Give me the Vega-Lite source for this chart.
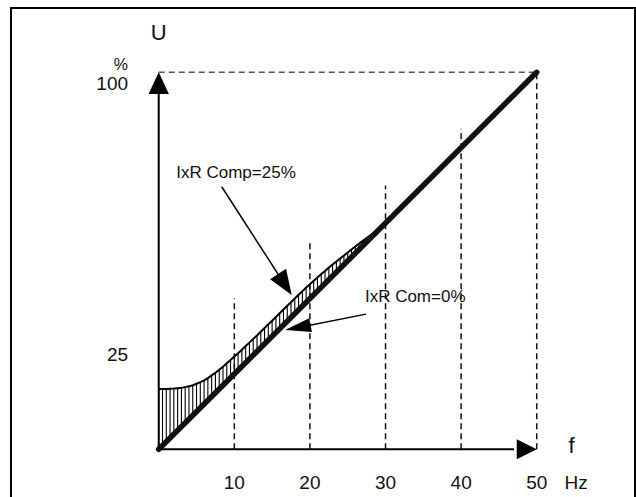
{
  "$schema": "https://vega.github.io/schema/vega-lite/v6.json",
  "width": 624,
  "height": 491,
  "autosize": "none",
  "padding": {"left": 11, "top": 8, "right": 1, "bottom": 0},
  "background": "white",
  "config": {"view": {"stroke": "black", "strokeWidth": 2}, "font": "Liberation Sans"},
  "datasets": {
    "curve": [
      {"f": 0, "u": 16.0, "lin": 0}, {"f": 0.5, "u": 16.0, "lin": 1}, {"f": 1, "u": 16.0, "lin": 2},
      {"f": 1.5, "u": 16.05, "lin": 3}, {"f": 2, "u": 16.1, "lin": 4}, {"f": 2.5, "u": 16.2, "lin": 5},
      {"f": 3, "u": 16.3, "lin": 6}, {"f": 3.5, "u": 16.5, "lin": 7}, {"f": 4, "u": 16.7, "lin": 8},
      {"f": 4.5, "u": 17.0, "lin": 9}, {"f": 5, "u": 17.4, "lin": 10}, {"f": 5.5, "u": 17.8, "lin": 11},
      {"f": 6, "u": 18.3, "lin": 12}, {"f": 6.5, "u": 18.9, "lin": 13}, {"f": 7, "u": 19.6, "lin": 14},
      {"f": 7.5, "u": 20.3, "lin": 15}, {"f": 8, "u": 21.1, "lin": 16}, {"f": 8.5, "u": 21.9, "lin": 17},
      {"f": 9, "u": 22.8, "lin": 18}, {"f": 9.5, "u": 23.7, "lin": 19}, {"f": 10, "u": 24.6, "lin": 20},
      {"f": 10.5, "u": 25.5, "lin": 21}, {"f": 11, "u": 26.4, "lin": 22}, {"f": 11.5, "u": 27.4, "lin": 23},
      {"f": 12, "u": 28.3, "lin": 24}, {"f": 12.5, "u": 29.3, "lin": 25}, {"f": 13, "u": 30.2, "lin": 26},
      {"f": 13.5, "u": 31.2, "lin": 27}, {"f": 14, "u": 32.2, "lin": 28}, {"f": 14.5, "u": 33.2, "lin": 29},
      {"f": 15, "u": 34.1, "lin": 30}, {"f": 15.5, "u": 35.1, "lin": 31}, {"f": 16, "u": 36.1, "lin": 32},
      {"f": 16.5, "u": 37.1, "lin": 33}, {"f": 17, "u": 38.1, "lin": 34}, {"f": 17.5, "u": 39.0, "lin": 35},
      {"f": 18, "u": 40.0, "lin": 36}, {"f": 18.5, "u": 41.0, "lin": 37}, {"f": 19, "u": 41.9, "lin": 38},
      {"f": 19.5, "u": 42.9, "lin": 39}, {"f": 20, "u": 43.8, "lin": 40}, {"f": 20.5, "u": 44.7, "lin": 41},
      {"f": 21, "u": 45.6, "lin": 42}, {"f": 21.5, "u": 46.5, "lin": 43}, {"f": 22, "u": 47.3, "lin": 44},
      {"f": 22.5, "u": 48.2, "lin": 45}, {"f": 23, "u": 49.0, "lin": 46}, {"f": 23.5, "u": 49.8, "lin": 47},
      {"f": 24, "u": 50.6, "lin": 48}, {"f": 24.5, "u": 51.4, "lin": 49}, {"f": 25, "u": 52.2, "lin": 50},
      {"f": 25.5, "u": 53.0, "lin": 51}, {"f": 26, "u": 53.8, "lin": 52}, {"f": 26.5, "u": 54.55, "lin": 53},
      {"f": 27, "u": 55.3, "lin": 54}, {"f": 27.5, "u": 56.05, "lin": 55}, {"f": 28, "u": 56.8, "lin": 56},
      {"f": 28.5, "u": 57.55, "lin": 57}, {"f": 29, "u": 58.35, "lin": 58}, {"f": 29.5, "u": 59.15, "lin": 59},
      {"f": 30, "u": 60.0, "lin": 60}
    ]
  },
  "encoding": {
    "x": {"field": "f", "type": "quantitative", "scale": {"domain": [-19.54, 63.0], "nice": false, "zero": false}, "axis": null},
    "y": {"field": "u", "type": "quantitative", "scale": {"domain": [-13.18, 117.06], "nice": false, "zero": false}, "axis": null}
  },
  "layer": [
    {
      "data": {"values": [
        {"f": 10, "u": 0, "u2": 40}, {"f": 20, "u": 0, "u2": 55}, {"f": 30, "u": 0, "u2": 70},
        {"f": 40, "u": 0, "u2": 85}, {"f": 50, "u": 0, "u2": 100}
      ]},
      "mark": {"type": "rule", "color": "#111", "strokeWidth": 1.5, "strokeDash": [6, 4]},
      "encoding": {"y2": {"field": "u2"}}
    },
    {
      "data": {"values": [{"f": 0, "u": 100, "f2": 50}]},
      "mark": {"type": "rule", "color": "#555", "strokeWidth": 1.5, "strokeDash": [6, 4]},
      "encoding": {"x2": {"field": "f2"}}
    },
    {
      "data": {"name": "curve"},
      "mark": {"type": "rule", "color": "black", "strokeWidth": 1.1},
      "encoding": {"y2": {"field": "lin"}}
    },
    {
      "data": {"name": "curve"},
      "mark": {"type": "line", "color": "black", "strokeWidth": 2},
      "encoding": {}
    },
    {
      "data": {"values": [{"f": 0, "u": 0}, {"f": 50, "u": 100}]},
      "mark": {"type": "line", "color": "#111", "strokeWidth": 5.5, "strokeCap": "round"},
      "encoding": {}
    },
    {
      "data": {"values": [{"f": 0, "u": 0, "f2": 0, "u2": 96}, {"f": 0, "u": 0, "f2": 47, "u2": 0}]},
      "mark": {"type": "rule", "color": "black", "strokeWidth": 2},
      "encoding": {"x2": {"field": "f2"}, "y2": {"field": "u2"}}
    },
    {
      "data": {"values": [{"f": 8.33, "u": 69.65, "f2": 16.9, "u2": 43.0}, {"f": 27.42, "u": 35.86, "f2": 18.0, "u2": 32.1}]},
      "mark": {"type": "rule", "color": "black", "strokeWidth": 1.5},
      "encoding": {"x2": {"field": "f2"}, "y2": {"field": "u2"}}
    },
    {
      "data": {"values": [{"f": 0, "u": 100}]},
      "mark": {"type": "point", "shape": "M0,0L-0.47,1L0.47,1Z", "filled": true, "opacity": 1, "color": "black", "size": 1870, "angle": 0},
      "encoding": {}
    },
    {
      "data": {"values": [{"f": 50, "u": 0}]},
      "mark": {"type": "point", "shape": "M0,0L-0.5,1L0.5,1Z", "filled": true, "opacity": 1, "color": "black", "size": 1600, "angle": 90},
      "encoding": {}
    },
    {
      "data": {"values": [{"f": 17.59, "u": 40.93}]},
      "mark": {"type": "point", "shape": "M0,0L-0.38,1L0.38,1Z", "filled": true, "opacity": 1, "color": "black", "size": 2500, "angle": 147},
      "encoding": {}
    },
    {
      "data": {"values": [{"f": 16.71, "u": 31.64}]},
      "mark": {"type": "point", "shape": "M0,0L-0.27,1L0.27,1Z", "filled": true, "opacity": 1, "color": "black", "size": 2704, "angle": 259},
      "encoding": {}
    },
    {
      "data": {"values": [
        {"f": 10, "u": -8.94, "t": "10"}, {"f": 20, "u": -8.94, "t": "20"}, {"f": 30, "u": -8.94, "t": "30"},
        {"f": 40, "u": -8.94, "t": "40"}, {"f": 50, "u": -8.94, "t": "50"}, {"f": 55.2, "u": -8.94, "t": "Hz"}
      ]},
      "mark": {"type": "text", "fontSize": 19, "align": "center", "baseline": "middle", "color": "#111"},
      "encoding": {"text": {"field": "t"}}
    },
    {
      "data": {"values": [{"f": -4.06, "u": 96.8, "t": "100"}, {"f": -4.06, "u": 25, "t": "25"}]},
      "mark": {"type": "text", "fontSize": 19, "align": "right", "baseline": "middle", "color": "#111"},
      "encoding": {"text": {"field": "t"}}
    },
    {
      "data": {"values": [{"f": -4.06, "u": 101.9, "t": "%"}]},
      "mark": {"type": "text", "fontSize": 16, "align": "right", "baseline": "middle", "color": "#111"},
      "encoding": {"text": {"field": "t"}}
    },
    {
      "data": {"values": [{"f": 0, "u": 110.5, "t": "U"}, {"f": 54.6, "u": 0.9, "t": "f"}]},
      "mark": {"type": "text", "fontSize": 22, "align": "center", "baseline": "middle", "color": "#111"},
      "encoding": {"text": {"field": "t"}}
    },
    {
      "data": {"values": [{"f": 10.22, "u": 73.3, "t": "IxR Comp=25%"}, {"f": 33.93, "u": 40.5, "t": "IxR Com=0%"}]},
      "mark": {"type": "text", "fontSize": 17, "align": "center", "baseline": "middle", "color": "#111"},
      "encoding": {"text": {"field": "t"}}
    }
  ]
}
